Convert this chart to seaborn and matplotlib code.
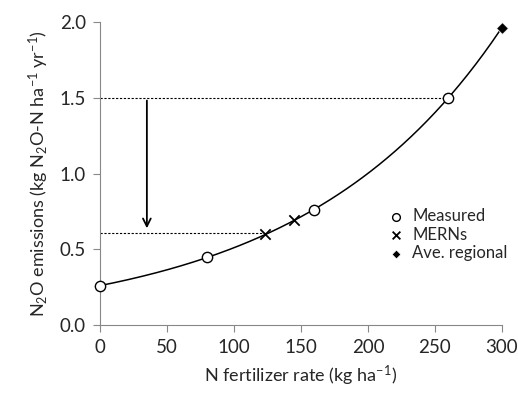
import numpy as np
import pandas as pd
import matplotlib
matplotlib.use("Agg")
import matplotlib.pyplot as plt
import seaborn as sns

# measured points
measured_x = [0, 80, 160, 260]
measured_y = [0.26, 0.45, 0.76, 1.50]

# MERNs
mern_x = [123, 145]
mern_y = [0.60, 0.69]

# average regional
regional_x = [300]
regional_y = [1.96]

# exponential fit y = a * exp(b * x)
fit_a = 0.26
fit_b = 0.00674

# reference levels
high_level = 1.50
low_level = 0.61
arrow_x = 35

sns.set_theme(style="ticks")
plt.rcParams["font.family"] = ["Lato", "DejaVu Sans"]
plt.rcParams["mathtext.fontset"] = "custom"
plt.rcParams["mathtext.rm"] = "Lato"
plt.rcParams["mathtext.it"] = "Lato:italic"
plt.rcParams["axes.unicode_minus"] = False

fig = plt.figure(figsize=(5.18, 3.93), dpi=100)
ax = fig.add_axes([0.193, 0.173, 0.776, 0.771])

xs = np.linspace(0, 300, 200)
curve = pd.DataFrame({"x": xs, "y": fit_a * np.exp(fit_b * xs)})
sns.lineplot(data=curve, x="x", y="y", ax=ax, color="black", lw=1.1, zorder=2)

# dotted reference lines and arrow
ax.plot([0, measured_x[-1]], [high_level, high_level], ls=(0, (2, 1.5)),
        color="black", lw=0.8, zorder=1)
ax.plot([0, mern_x[0]], [low_level, low_level], ls=(0, (2, 1.5)),
        color="black", lw=0.8, zorder=1)
ax.annotate("", xy=(arrow_x, low_level + 0.01), xytext=(arrow_x, high_level),
            arrowprops=dict(arrowstyle="->", color="black", lw=1.3,
                            mutation_scale=14))

sns.scatterplot(x=measured_x, y=measured_y, ax=ax, marker="o", s=55,
                facecolor="white", edgecolor="black", linewidth=1,
                label="Measured", zorder=3, clip_on=False)
sns.scatterplot(x=mern_x, y=mern_y, ax=ax, marker="x", s=55, color="black",
                linewidth=1.3, label="MERNs", zorder=3)
sns.scatterplot(x=regional_x, y=regional_y, ax=ax, marker="D", s=35,
                color="black", label="Ave. regional", zorder=3, clip_on=False)

ax.set_xlim(0, 300)
ax.set_ylim(0, 2.0)
ax.set_xticks(range(0, 301, 50))
ax.set_yticks([0.0, 0.5, 1.0, 1.5, 2.0])
ax.set_yticklabels(["0.0", "0.5", "1.0", "1.5", "2.0"])
ax.tick_params(labelsize=13.5, color="#888888", length=5, width=0.8, pad=5)
for side in ["top", "right"]:
    ax.spines[side].set_visible(False)
for side in ["left", "bottom"]:
    ax.spines[side].set_color("#888888")
    ax.spines[side].set_linewidth(0.8)

ax.set_xlabel("N fertilizer rate (kg ha$^{-1}$)", fontsize=13, labelpad=6)
ax.set_ylabel("N$_2$O emissions (kg N$_2$O-N ha$^{-1}$ yr$^{-1}$)",
              fontsize=13, labelpad=6)

handles, labels = ax.get_legend_handles_labels()
leg = ax.legend(handles, labels, loc="center left",
                bbox_to_anchor=(0.675, 0.298), frameon=False,
                fontsize=12, handletextpad=0.35, labelspacing=0.15,
                handlelength=1.2, markerscale=0.75)

fig.savefig("out.png", dpi=100)
